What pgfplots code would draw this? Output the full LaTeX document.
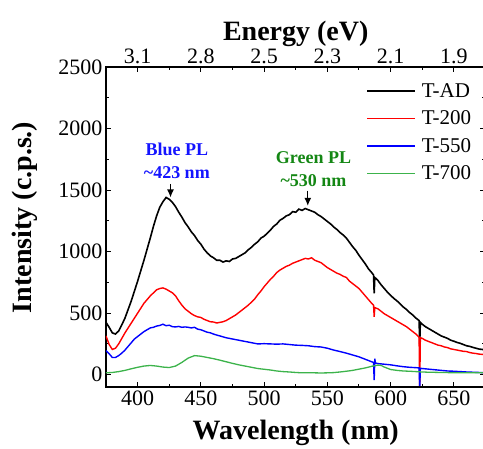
\documentclass[border=0pt]{standalone}
\usepackage{fontspec}
\setmainfont{Liberation Serif}
\usepackage{pgfplots}
\pgfplotsset{compat=1.18}
\usetikzlibrary{arrows.meta}

\definecolor{lgreen}{RGB}{60,179,75}
\definecolor{tgreen}{RGB}{20,135,20}
\definecolor{tblue}{RGB}{20,20,255}

\pgfplotsset{
  common/.style={
    at={(0,0)}, anchor=south west,
    scale only axis, width=379.5pt, height=320pt,
    xmin=375, xmax=675, ymin=-100, ymax=2500,
    xtick={400,450,...,650},
    minor x tick num=1,
    tick align=inside,
    major tick length=5pt, minor tick length=3pt,
    every tick/.style={black, line width=1pt},
    axis line style={line width=1.2pt},
    tick label style={font=\rmfamily\fontsize{22}{24}\selectfont},
    /pgf/number format/assume math mode=true,
    /pgf/number format/1000 sep={},
    label style={font=\rmfamily\fontsize{28}{30}\selectfont\bfseries},
  }
}

\begin{document}
\begin{tikzpicture}
\useasboundingbox (-106pt,-62pt) rectangle (377pt,387pt);
\clip (-106pt,-62pt) rectangle (377pt,387pt);

\begin{axis}[
  common,
  ytick={0,500,...,2500},
  minor y tick num=1,
  xlabel={Wavelength (nm)},
  ylabel={Intensity (c.p.s.)},
  xlabel style={at={(axis description cs:0.5,-0.144)}, anchor=center},
  ylabel style={at={(axis description cs:-0.213,0.53)}, anchor=center},
  legend style={at={(axis description cs:0.678,0.962)}, anchor=north west,
    draw=none, fill=none, font=\rmfamily\fontsize{21}{23}\selectfont, row sep=8pt,
    /tikz/every odd column/.append style={column sep=4pt}},
  legend cell align=left,
  legend image code/.code={\draw[#1, line width=1.3pt] (0pt,0pt) -- (48pt,0pt);},
]

% T-AD
\addplot[black, line width=1.6pt] coordinates {
(375,425) (377.5,385) (380,340) (382.5,330) (385,355) (387.5,405) (390,460)
(392.5,530) (395,600) (397.5,680) (400,760) (402.5,845) (405,930) (407.5,1020)
(410,1110) (412.5,1205) (415,1290) (417.5,1360) (420,1405) (422.5,1440)
(425,1425) (427.5,1400) (430,1365) (432.5,1320) (435,1280) (437.5,1235)
(440,1200) (442.5,1160) (445,1130) (447.5,1090) (450,1060) (452.5,1020)
(455,990) (457.5,965) (460,950) (462.5,930) (465,930) (467.5,915) (470,925)
(472.5,920) (475,940) (477.5,945) (480,960) (482.5,975) (485,990) (487.5,1015)
(490,1035) (492.5,1060) (495,1080) (497.5,1110) (500,1125) (502.5,1150)
(505,1175) (507.5,1205) (510,1225) (512.5,1255) (515,1270) (517.5,1290)
(520,1300) (522.5,1325) (525,1320) (527.5,1345) (530,1335) (532.5,1350)
(535,1340) (537.5,1330) (540,1320) (542.5,1300) (545,1285) (547.5,1265)
(550,1245) (552.5,1225) (555,1200) (557.5,1180) (560,1155) (562.5,1135)
(565,1110) (567.5,1075) (570,1040) (572.5,1010) (575,970) (577.5,935)
(580,900) (582.5,860) (585,830) (586.5,810) (587,660) (587.5,790) (590,765)
(592.5,730) (595,700) (597.5,670) (600,645) (602.5,620) (605,600) (607.5,575)
(610,550) (612.5,530) (615,505) (617.5,485) (620,460) (622.5,440) (623,250)
(623.5,425) (625,410) (627.5,390) (630,375) (632.5,360) (635,345) (637.5,330)
(640,315) (642.5,305) (645,295) (647.5,280) (650,272) (652.5,262) (655,255)
(657.5,245) (660,235) (662.5,230) (665,222) (667.5,215) (670,208) (672.5,205)
(675,198)
};
\addlegendentry{T-AD}

% T-200
\addplot[red, line width=1.4pt] coordinates {
(375,315) (377.5,245) (380,205) (382.5,215) (385,250) (387.5,295) (390,340)
(392.5,380) (395,420) (397.5,460) (400,500) (402.5,540) (405,580) (407.5,610)
(410,640) (412.5,665) (415,690) (417.5,700) (420,705) (422.5,695) (425,680)
(427.5,665) (430,640) (432.5,600) (435,565) (437.5,535) (440,515) (442.5,495)
(445,480) (447.5,470) (450,465) (452.5,450) (455,440) (457.5,430) (460,428)
(462.5,420) (465,425) (467.5,430) (470,440) (472.5,455) (475,470) (477.5,485)
(480,505) (482.5,525) (485,545) (487.5,565) (490,590) (492.5,615) (495,650)
(497.5,680) (500,715) (502.5,745) (505,775) (507.5,800) (510,830) (512.5,850)
(515,865) (517.5,880) (520,890) (522.5,905) (525,915) (527.5,925) (530,935)
(532.5,945) (535,940) (537.5,950) (540,930) (542.5,920) (545,910) (547.5,890)
(550,870) (552.5,855) (555,840) (557.5,825) (560,815) (562.5,800) (565,790)
(567.5,760) (570,740) (572.5,720) (575,700) (577.5,670) (580,640) (582.5,610)
(585,580) (586.5,565) (587,470) (587.5,545) (590,535) (592.5,515) (595,495)
(597.5,480) (600,465) (602.5,450) (605,435) (607.5,420) (610,405) (612.5,390)
(615,370) (617.5,350) (620,330) (622.5,305) (623,-110) (623.5,300) (625,295)
(627.5,280) (630,270) (632.5,260) (635,250) (637.5,240) (640,235) (642.5,225)
(645,220) (647.5,210) (650,205) (652.5,200) (655,195) (657.5,190) (660,188)
(662.5,180) (665,175) (667.5,172) (670,167) (672.5,165) (675,160)
};
\addlegendentry{T-200}

% T-550
\addplot[blue, line width=1.4pt] coordinates {
(375,195) (377.5,170) (380,140) (382.5,140) (385,155) (387.5,175) (390,200)
(392.5,230) (395,260) (397.5,290) (400,310) (402.5,330) (405,350) (407.5,365)
(410,380) (412.5,385) (415,395) (417.5,400) (420,410) (422.5,398) (425,402)
(427.5,390) (430,388) (432.5,392) (435,385) (437.5,388) (440,385) (442.5,380)
(445,385) (447.5,370) (450,365) (452.5,355) (455,345) (457.5,340) (460,330)
(462.5,322) (465,315) (470,300) (475,290) (480,280) (485,270) (490,260)
(495,250) (500,252) (505,250) (510,248) (515,250) (520,245) (525,240)
(530,238) (535,235) (540,228) (545,225) (550,215) (555,200) (560,188)
(565,175) (570,160) (575,145) (580,125) (585,105) (586.5,100) (587,-45)
(587.5,130) (588,95) (590,90) (595,85) (600,80) (605,72) (610,65) (615,60)
(620,57) (622.5,55) (623,-110) (623.5,52) (625,50) (630,45) (635,40) (640,35)
(645,30) (650,28) (655,25) (660,22) (665,20) (670,18) (675,16)
};
\addlegendentry{T-550}

% T-700
\addplot[lgreen, line width=1.3pt] coordinates {
(375,15) (380,18) (385,25) (390,35) (395,48) (400,60) (405,70) (410,75)
(415,70) (420,62) (425,58) (430,70) (435,100) (440,135) (445,155) (450,150)
(455,140) (460,130) (465,118) (470,105) (475,92) (480,80) (485,70) (490,60)
(495,50) (500,44) (505,38) (510,30) (515,25) (520,22) (525,18) (530,15)
(535,15) (540,15) (545,14) (550,15) (555,17) (560,22) (565,28) (570,35)
(575,45) (580,55) (585,68) (590,78) (592.5,75) (595,62) (600,42) (605,35)
(610,30) (615,28) (620,25) (625,22) (630,20) (640,18) (650,16) (660,15)
(675,15)
};
\addlegendentry{T-700}

% peak annotations
\node[tblue, font=\rmfamily\fontsize{18}{23}\selectfont\bfseries, align=center]
  at (axis cs:431,1740) {Blue PL\\\textasciitilde423 nm};
\draw[-{Latex[length=8pt,width=7pt]}, line width=1.2pt]
  (axis cs:426,1550) -- (axis cs:426,1440);
\node[tgreen, font=\rmfamily\fontsize{18}{23}\selectfont\bfseries, align=center]
  at (axis cs:539,1672) {Green PL\\\textasciitilde530 nm};
\draw[-{Latex[length=8pt,width=7pt]}, line width=1.2pt]
  (axis cs:534.5,1495) -- (axis cs:534.5,1372);
\end{axis}

% energy axis on top
\begin{axis}[
  common,
  hide y axis,
  xtick pos=upper, xticklabel pos=upper,
  xticklabels={3.1,2.8,2.5,2.3,2.1,1.9},
  xlabel={Energy (eV)},
  xlabel style={at={(axis description cs:0.5,1.105)}, anchor=center},
]
\end{axis}
\end{tikzpicture}
\end{document}
